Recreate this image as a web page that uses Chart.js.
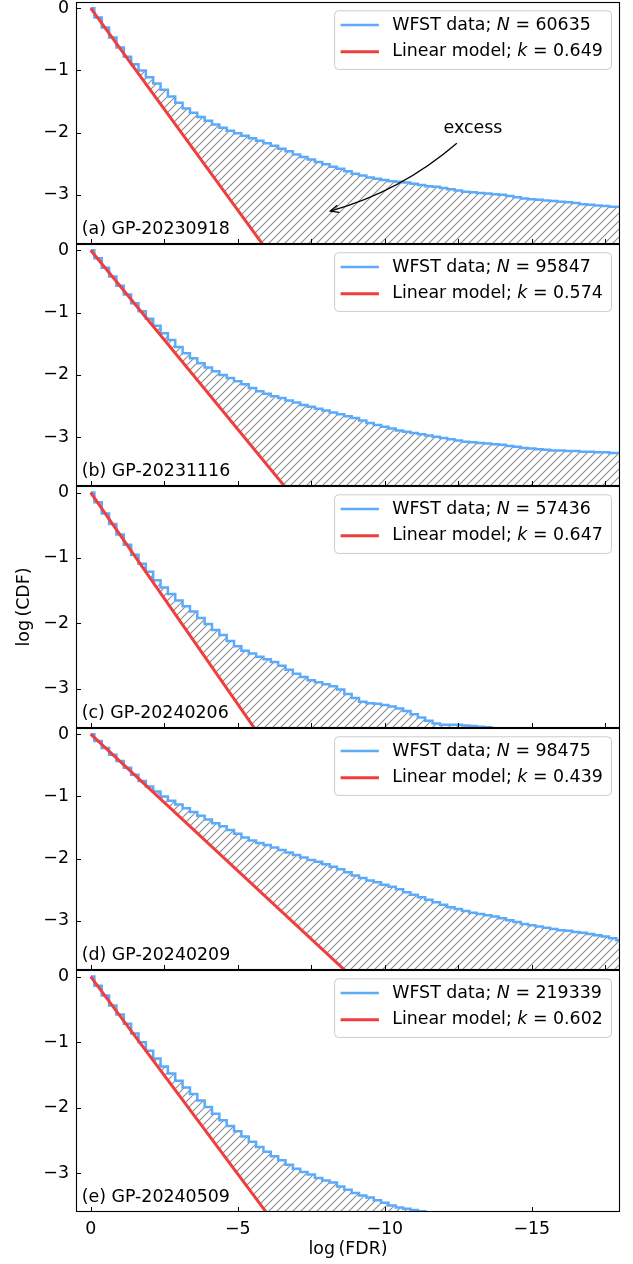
<!DOCTYPE html>
<html>
<head>
<meta charset="utf-8">
<script src="https://cdn.jsdelivr.net/npm/chart.js@4.4.1/dist/chart.umd.min.js"></script>
<style>
  html, body { margin: 0; padding: 0; background: #fff; }
  #wrap { position: relative; width: 633px; height: 1264px; }
  #wrap canvas { position: absolute; left: 0; top: 0; }
</style>
</head>
<body>
<div id="wrap">
  <canvas id="p0" width="633" height="1264"></canvas>
  <canvas id="p1" width="633" height="1264"></canvas>
  <canvas id="p2" width="633" height="1264"></canvas>
  <canvas id="p3" width="633" height="1264"></canvas>
  <canvas id="p4" width="633" height="1264"></canvas>
</div>
<script>
// shared log(FDR) grid of the binned CDF steps
const logFdr = [
  0, -0.25, -0.5, -0.75, -1, -1.25, -1.5, -1.75, -2, -2.25, -2.5, -2.75,
  -3, -3.25, -3.5, -3.75, -4, -4.25, -4.5, -4.75, -5, -5.25, -5.5, -5.75,
  -6, -6.25, -6.5, -6.75, -7, -7.25, -7.5, -7.75, -8, -8.25, -8.5, -8.75,
  -9, -9.25, -9.5, -9.75, -10, -10.25, -10.5, -10.75, -11, -11.25, -11.5, -11.75,
  -12, -12.25, -12.5, -12.75, -13, -13.25, -13.5, -13.75, -14, -14.25, -14.5, -14.75,
  -15, -15.25, -15.5, -15.75, -16, -16.25, -16.5, -16.75, -17, -17.25, -17.5, -17.75,
  -18
];

const panelNames = ['(a) GP-20230918', '(b) GP-20231116', '(c) GP-20240206', '(d) GP-20240209', '(e) GP-20240509'];
const sampleSizes = [60635, 95847, 57436, 98475, 219339];
const slopes = [0.649, 0.574, 0.647, 0.439, 0.602];
const yBottoms = [-3.79, -3.78, -3.6, -3.79, -3.59];

const cdfA = [
  0, -0.15, -0.31, -0.47, -0.63, -0.78, -0.90, -1.00, -1.11, -1.21, -1.31, -1.42,
  -1.52, -1.61, -1.68, -1.75, -1.81, -1.87, -1.92, -1.97, -2.01, -2.05, -2.09, -2.13,
  -2.17, -2.21, -2.26, -2.30, -2.35, -2.39, -2.43, -2.47, -2.51, -2.55, -2.58, -2.62,
  -2.66, -2.69, -2.72, -2.74, -2.76, -2.78, -2.79, -2.80, -2.82, -2.84, -2.86, -2.87,
  -2.89, -2.91, -2.93, -2.95, -2.96, -2.97, -2.98, -2.99, -3.00, -3.02, -3.04, -3.06,
  -3.07, -3.08, -3.09, -3.10, -3.11, -3.12, -3.13, -3.15, -3.16, -3.17, -3.18, -3.19,
  -3.19];
const cdfB = [
  0, -0.13, -0.28, -0.42, -0.57, -0.71, -0.85, -0.98, -1.10, -1.21, -1.33, -1.44,
  -1.55, -1.65, -1.73, -1.81, -1.88, -1.94, -2.00, -2.05, -2.10, -2.15, -2.21, -2.26,
  -2.30, -2.34, -2.37, -2.41, -2.44, -2.48, -2.51, -2.54, -2.57, -2.60, -2.63, -2.66,
  -2.69, -2.73, -2.77, -2.80, -2.83, -2.86, -2.89, -2.91, -2.93, -2.95, -2.97, -2.99,
  -3.01, -3.03, -3.05, -3.07, -3.08, -3.09, -3.10, -3.11, -3.12, -3.14, -3.15, -3.17,
  -3.18, -3.19, -3.20, -3.21, -3.21, -3.22, -3.22, -3.23, -3.23, -3.24, -3.24, -3.25,
  -3.25];
const cdfC = [
  0, -0.15, -0.32, -0.48, -0.64, -0.80, -0.95, -1.09, -1.21, -1.34, -1.45, -1.55,
  -1.65, -1.74, -1.82, -1.92, -2.01, -2.10, -2.18, -2.27, -2.35, -2.42, -2.46, -2.51,
  -2.55, -2.59, -2.65, -2.71, -2.77, -2.82, -2.87, -2.90, -2.93, -2.96, -3.01, -3.08,
  -3.14, -3.20, -3.22, -3.23, -3.25, -3.27, -3.30, -3.34, -3.39, -3.44, -3.49, -3.53,
  -3.55, -3.55, -3.55, -3.56, -3.57, -3.58, -3.59, -3.72];
const cdfD = [
  0, -0.11, -0.22, -0.33, -0.43, -0.54, -0.65, -0.75, -0.84, -0.92, -1.00, -1.07,
  -1.13, -1.19, -1.25, -1.31, -1.37, -1.43, -1.48, -1.54, -1.60, -1.66, -1.71, -1.75,
  -1.78, -1.82, -1.86, -1.90, -1.94, -1.98, -2.02, -2.05, -2.09, -2.13, -2.17, -2.22,
  -2.27, -2.31, -2.35, -2.38, -2.42, -2.45, -2.49, -2.54, -2.58, -2.62, -2.66, -2.70,
  -2.74, -2.78, -2.81, -2.84, -2.87, -2.89, -2.91, -2.93, -2.96, -2.99, -3.02, -3.05,
  -3.07, -3.09, -3.11, -3.13, -3.15, -3.16, -3.18, -3.19, -3.21, -3.23, -3.25, -3.28,
  -3.31];
const cdfE = [
  0, -0.14, -0.29, -0.44, -0.58, -0.72, -0.87, -1.00, -1.13, -1.25, -1.37, -1.48,
  -1.59, -1.69, -1.79, -1.89, -1.99, -2.09, -2.19, -2.28, -2.36, -2.44, -2.52, -2.60,
  -2.67, -2.74, -2.80, -2.87, -2.93, -2.98, -3.02, -3.07, -3.11, -3.14, -3.20, -3.25,
  -3.30, -3.34, -3.37, -3.41, -3.45, -3.49, -3.52, -3.54, -3.56, -3.58, -3.60, -3.75];
const cdfSeries = [cdfA, cdfB, cdfC, cdfD, cdfE];

const yTicks = [0, -1, -2, -3];
const xTicksMinor = [0, -2.5, -5, -7.5, -10, -12.5, -15, -17.5];
const xTicksMajor = [0, -5, -10, -15];

// "excess" note in panel (a), data coordinates
const noteText = { x: -13.0, y: -2.0 };
const noteFrom = { x: -12.45, y: -2.17 };
const noteTo = { x: -8.15, y: -3.26 };

const X_MIN = -18, X_MAX = 0.5, Y_MAX = 0.1;
const W = 633, H = 1264, PANEL_TOP = 2, PANEL_H = 242, LEFT = 76, RIGHT = 620;
const BLUE = 'rgb(92,170,250)';
const RED = 'rgb(240,62,62)';
const FONT = 'DejaVu Sans';
const FS = 17.4;

Chart.defaults.font.family = FONT;
Chart.defaults.font.size = FS;
Chart.defaults.color = '#000';

function makeHatch() {
  const s = 8;
  const c = document.createElement('canvas');
  c.width = s; c.height = s;
  const g = c.getContext('2d');
  g.strokeStyle = 'rgba(120,120,120,0.85)';
  g.lineWidth = 1.1;
  g.beginPath();
  g.moveTo(0, s); g.lineTo(s, 0);
  g.moveTo(-1, 1); g.lineTo(1, -1);
  g.moveTo(s - 1, s + 1); g.lineTo(s + 1, s - 1);
  g.stroke();
  return g.createPattern(c, 'repeat');
}

const fmt = v => v === 0 ? '0' : (v < 0 ? '\u2212' : '') + Math.abs(v);

function roundRect(ctx, x, y, w, h, r) {
  ctx.beginPath();
  ctx.moveTo(x + r, y);
  ctx.lineTo(x + w - r, y);
  ctx.quadraticCurveTo(x + w, y, x + w, y + r);
  ctx.lineTo(x + w, y + h - r);
  ctx.quadraticCurveTo(x + w, y + h, x + w - r, y + h);
  ctx.lineTo(x + r, y + h);
  ctx.quadraticCurveTo(x, y + h, x, y + h - r);
  ctx.lineTo(x, y + r);
  ctx.quadraticCurveTo(x, y, x + r, y);
  ctx.closePath();
}

function drawLegend(ctx, area, i) {
  const normal = FS + 'px "' + FONT + '"';
  const italic = 'italic ' + FS + 'px "' + FONT + '"';
  const rows = [
    { color: BLUE, width: 2.5, parts: [['WFST data; ', normal], ['N', italic], [' = ' + sampleSizes[i], normal]] },
    { color: RED, width: 3, parts: [['Linear model; ', normal], ['k', italic], [' = ' + slopes[i].toFixed(3), normal]] }
  ];
  let maxW = 0;
  rows.forEach(r => {
    r.w = r.parts.reduce((s, p) => { ctx.font = p[1]; return s + ctx.measureText(p[0]).width; }, 0);
    maxW = Math.max(maxW, r.w);
  });
  const bw = 57.6 + maxW + 8.7, bh = 58.6;
  const bx = area.right - 8.5 - bw, by = area.top + 8.8;
  ctx.save();
  roundRect(ctx, bx, by, bw, bh, 4);
  ctx.fillStyle = 'rgba(255,255,255,0.8)';
  ctx.fill();
  ctx.strokeStyle = '#cccccc';
  ctx.lineWidth = 1;
  ctx.stroke();
  rows.forEach((r, k) => {
    const cy = by + 14.3 + k * 26.7;
    ctx.strokeStyle = r.color;
    ctx.lineWidth = r.width;
    ctx.beginPath();
    ctx.moveTo(bx + 6, cy); ctx.lineTo(bx + 44.3, cy);
    ctx.stroke();
    let tx = bx + 57.6;
    ctx.fillStyle = '#000';
    ctx.textBaseline = 'middle';
    ctx.textAlign = 'left';
    r.parts.forEach(p => {
      ctx.font = p[1];
      ctx.fillText(p[0], tx, cy);
      tx += ctx.measureText(p[0]).width;
    });
  });
  ctx.restore();
}

function drawNote(chart) {
  const ctx = chart.ctx, xs = chart.scales.x, ys = chart.scales.y;
  const tx = xs.getPixelForValue(noteText.x), ty = ys.getPixelForValue(noteText.y);
  const sx = xs.getPixelForValue(noteFrom.x), sy = ys.getPixelForValue(noteFrom.y);
  const ex = xs.getPixelForValue(noteTo.x), ey = ys.getPixelForValue(noteTo.y);
  ctx.save();
  ctx.fillStyle = '#000';
  ctx.font = FS + 'px "' + FONT + '"';
  ctx.textAlign = 'center';
  ctx.textBaseline = 'alphabetic';
  ctx.fillText('excess', tx, ty);
  // gently curved arrow, bulging to the lower right
  const mx = (sx + ex) / 2, my = (sy + ey) / 2;
  const dx = ex - sx, dy = ey - sy, len = Math.hypot(dx, dy);
  const px = mx + dy / len * 16, py = my - dx / len * 16;
  ctx.strokeStyle = '#000';
  ctx.lineWidth = 1.3;
  ctx.beginPath();
  ctx.moveTo(sx, sy);
  ctx.quadraticCurveTo(px, py, ex, ey);
  ctx.stroke();
  const ang = Math.atan2(ey - py, ex - px);
  const hl = 9, ha = 0.42;
  ctx.beginPath();
  ctx.moveTo(ex - hl * Math.cos(ang - ha), ey - hl * Math.sin(ang - ha));
  ctx.lineTo(ex, ey);
  ctx.lineTo(ex - hl * Math.cos(ang + ha), ey - hl * Math.sin(ang + ha));
  ctx.stroke();
  ctx.restore();
}

function decor(i) {
  return {
    id: 'decor' + i,
    afterDraw(chart) {
      const ctx = chart.ctx, a = chart.chartArea;
      ctx.save();
      ctx.strokeStyle = '#000';
      ctx.lineWidth = 1;
      ctx.beginPath();
      chart.scales.x.ticks.forEach(t => {
        const x = Math.round(chart.scales.x.getPixelForValue(t.value)) + 0.5;
        ctx.moveTo(x, a.bottom); ctx.lineTo(x, a.bottom - 5);
      });
      chart.scales.y.ticks.forEach(t => {
        const y = Math.round(chart.scales.y.getPixelForValue(t.value)) + 0.5;
        ctx.moveTo(a.left, y); ctx.lineTo(a.left + 5, y);
      });
      ctx.stroke();
      ctx.lineWidth = 1.1;
      ctx.strokeRect(a.left + 0.5, a.top + 0.5, a.right - a.left - 1, a.bottom - a.top - 1);
      ctx.fillStyle = '#000';
      ctx.font = FS + 'px "' + FONT + '"';
      ctx.textAlign = 'left';
      ctx.textBaseline = 'alphabetic';
      ctx.fillText(panelNames[i], a.left + 5.7, a.bottom - 10);
      ctx.restore();
      drawLegend(ctx, a, i);
      if (i === 0) drawNote(chart);
    }
  };
}

const hatch = makeHatch();

cdfSeries.forEach((ys, i) => {
  const isLast = i === cdfSeries.length - 1;
  const top = PANEL_TOP + i * PANEL_H;
  const bottom = top + PANEL_H;
  const blueData = ys.map((y, j) => ({ x: logFdr[j], y: y }));
  const redData = [0, X_MIN].map(x => ({ x: x, y: slopes[i] * x }));

  new Chart(document.getElementById('p' + i), {
    type: 'line',
    data: {
      datasets: [
        { label: 'Linear model', data: redData, borderColor: RED, borderWidth: 3,
          pointRadius: 0, fill: false, clip: 0, tension: 0 },
        { label: 'WFST data', data: blueData, borderColor: BLUE, borderWidth: 2.5,
          pointRadius: 0, stepped: 'middle', fill: '-1', backgroundColor: hatch, clip: 0 }
      ]
    },
    options: {
      responsive: false,
      animation: false,
      events: [],
      layout: {
        autoPadding: false,
        padding: { left: 0, right: W - RIGHT, top: top, bottom: isLast ? 0 : H - bottom }
      },
      plugins: { legend: { display: false }, tooltip: { enabled: false } },
      scales: {
        x: {
          type: 'linear',
          reverse: true,
          min: X_MIN,
          max: X_MAX,
          grid: { display: false, drawTicks: false },
          border: { display: false },
          ticks: { display: isLast, padding: 7, autoSkip: false, maxRotation: 0, callback: fmt },
          afterBuildTicks: s => { s.ticks = (isLast ? xTicksMajor : xTicksMinor).map(v => ({ value: v })); },
          afterFit: s => { s.height = isLast ? H - bottom : 0; s.paddingLeft = 0; s.paddingRight = 0; },
          title: { display: isLast, text: 'log\u2009(FDR)', padding: { top: 0, bottom: 4 } }
        },
        y: {
          type: 'linear',
          min: yBottoms[i],
          max: Y_MAX,
          grid: { display: false, drawTicks: false },
          border: { display: false },
          ticks: { padding: 7, autoSkip: false, callback: fmt },
          afterBuildTicks: s => { s.ticks = yTicks.map(v => ({ value: v })); },
          afterFit: s => { s.width = LEFT; s.paddingTop = 0; s.paddingBottom = 0; },
          title: { display: i === 2, text: 'log\u2009(CDF)', padding: { top: 14, bottom: 0 } }
        }
      }
    },
    plugins: [decor(i)]
  });
});
</script>
</body>
</html>
